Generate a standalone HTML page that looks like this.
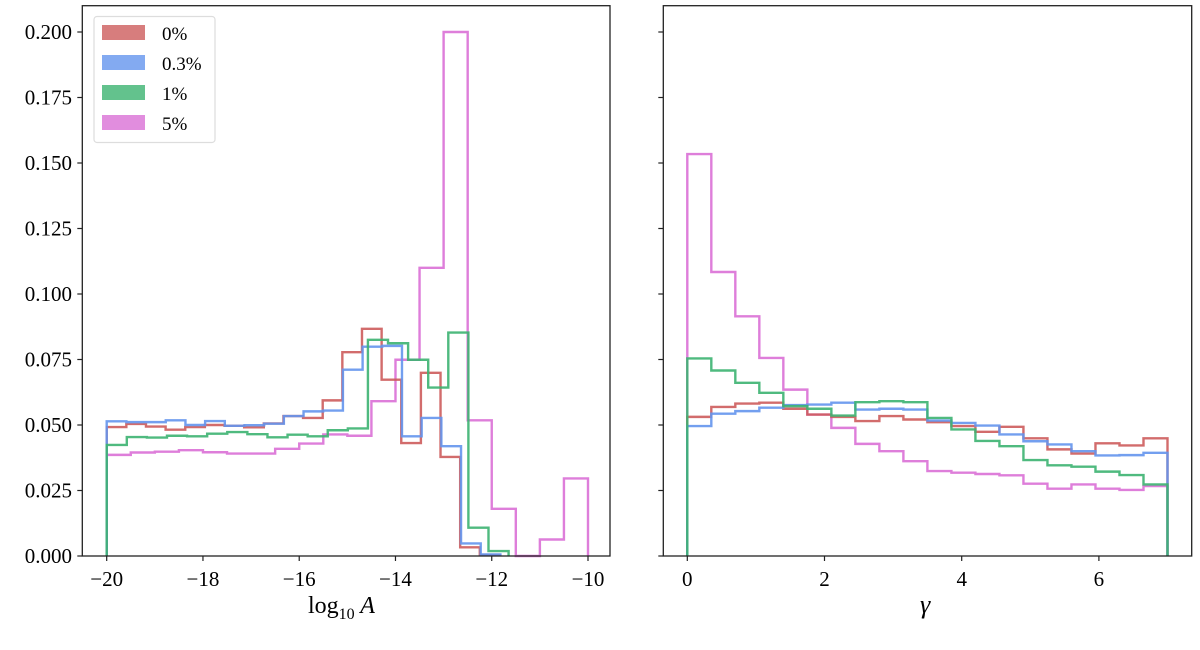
<!DOCTYPE html>
<html><head><meta charset="utf-8"><style>
body{margin:0;background:#fff;width:1200px;height:645px;overflow:hidden}
svg text{font-family:"Liberation Serif","DejaVu Serif",serif;fill:#000}
</style></head><body>
<svg id="chart" width="1200" height="645" xmlns="http://www.w3.org/2000/svg"></svg>
<script>
const seriesNames=["0%","0.3%","1%","5%"];
const colors=["#cd5c5c","#6495ed","#3cb371","#da70d6"];
// left panel: log10 A (each series: range start, range end, 20 bin values)
const leftRanges=[[-20,-11.84],[-20,-11.82],[-20,-11.65],[-20,-10]];
const leftRed=[.0492,.0504,.0494,.0482,.0492,.05,.0497,.0491,.0506,.0534,.0527,.0594,.0778,.0867,.0673,.0431,.0699,.0378,.0033,.0004];
const leftBlue=[.0514,.0511,.0511,.0518,.05,.0515,.0497,.0499,.0505,.0534,.0552,.0555,.0711,.0799,.0802,.0457,.0527,.0419,.0048,.0006];
const leftGreen=[.0424,.0454,.0452,.0459,.0457,.0467,.0473,.0465,.0453,.0463,.0457,.048,.0487,.0825,.0812,.0749,.0643,.0853,.0108,.0019];
const leftPink=[.0386,.0395,.0398,.0404,.0396,.0391,.0391,.0409,.0429,.0464,.0459,.0591,.0749,.110,.200,.0518,.018,0,.0063,.0296];
// right panel: gamma, range 0..7, 20 bins
const rightRange=[0,7];
const rightRed=[.0531,.0569,.0582,.0585,.0562,.054,.0531,.0515,.0534,.0521,.0511,.0496,.0474,.0493,.0449,.0407,.0391,.043,.0422,.0449];
const rightBlue=[.0496,.0543,.0553,.0566,.0576,.0578,.0585,.0559,.0562,.0559,.0517,.0508,.0498,.0464,.0438,.0426,.04,.0384,.0385,.0394];
const rightGreen=[.0754,.0708,.0661,.0623,.0572,.0562,.0536,.0587,.0591,.0587,.0527,.0483,.0439,.0419,.0366,.0346,.0341,.0322,.0309,.0273];
const rightPink=[.1534,.1084,.0915,.0756,.0635,.054,.0489,.0428,.04,.0362,.0324,.0318,.0313,.0308,.0276,.0257,.0273,.0257,.0252,.0267];
const yTicks=[0,0.025,0.05,0.075,0.1,0.125,0.15,0.175,0.2];
const yTickLabels=["0.000","0.025","0.050","0.075","0.100","0.125","0.150","0.175","0.200"];
const leftXTicks=[-20,-18,-16,-14,-12,-10];
const rightXTicks=[0,2,4,6];

const NS="http://www.w3.org/2000/svg";
const svg=document.getElementById('chart');
function mk(tag,attrs,parent){const e=document.createElementNS(NS,tag);for(const k in attrs)e.setAttribute(k,attrs[k]);(parent||svg).appendChild(e);return e;}
const yScale=v=>556-v*2620;
const panels=[
 {name:'log-a',x0:82.3,x1:610,xs:v=>106.7+(v+20)*48.13,ticks:leftXTicks,labels:true,
  data:[leftRed,leftBlue,leftGreen,leftPink],ranges:leftRanges},
 {name:'gamma',x0:663.3,x1:1191.7,xs:v=>687.3+v*68.6,ticks:rightXTicks,labels:false,
  data:[rightRed,rightBlue,rightGreen,rightPink],ranges:[rightRange,rightRange,rightRange,rightRange]}
];
panels.forEach(p=>{
  const g=mk('g',{});
  
  
  // series
  [3,0,1,2].forEach(si=>{
    const vals=p.data[si],r=p.ranges[si],n=vals.length,w=(r[1]-r[0])/n;
    let d='M'+p.xs(r[0])+','+yScale(0);
    vals.forEach((v,i)=>{d+=' L'+p.xs(r[0]+i*w)+','+yScale(v)+' L'+p.xs(r[0]+(i+1)*w)+','+yScale(v);});
    d+=' L'+p.xs(r[1])+','+yScale(0);
    const path=mk('path',{d:d,fill:'none',stroke:colors[si],'stroke-width':2.4,'stroke-opacity':0.9,'stroke-linejoin':'miter'},g);
    
    
  });
  mk('rect',{x:p.x0,y:5.7,width:p.x1-p.x0,height:556-5.7,fill:'none',stroke:'#222','stroke-width':1.3},g);
  yTicks.forEach((t,i)=>{
    const y=yScale(t);
    mk('line',{x1:p.x0-5,x2:p.x0,y1:y,y2:y,stroke:'#222','stroke-width':1.2},g);
    if(p.labels){const tx=mk('text',{x:72,y:y+7,'text-anchor':'end','font-size':21},g);tx.textContent=yTickLabels[i];
      }
  });
  p.ticks.forEach(t=>{
    const x=p.xs(t);
    mk('line',{x1:x,x2:x,y1:556,y2:561,stroke:'#222','stroke-width':1.2},g);
    const tx=mk('text',{x:x,y:586,'text-anchor':'middle','font-size':21},g);
    tx.textContent=t<0?'\u2212'+(-t):String(t);
    
    
  });
});
</script>
<svg style="position:absolute;left:0;top:0" width="1200" height="645" xmlns="http://www.w3.org/2000/svg">
<text x="308" y="613" font-size="24" font-family="Liberation Serif, serif">log<tspan font-size="16" dy="6">10</tspan><tspan dy="-6" font-style="italic"> A</tspan></text>
<text x="920" y="613" font-size="26" font-style="italic" font-family="Liberation Serif, serif">γ</text>
<g>
<rect x="94" y="16.5" width="121" height="126" rx="3" fill="#fff" stroke="#ddd" stroke-width="1.2"/>
<rect x="102" y="25" width="43" height="15" fill="#cd5c5c" fill-opacity="0.8"/>
<rect x="102" y="55" width="43" height="15" fill="#6495ed" fill-opacity="0.8"/>
<rect x="102" y="85" width="43" height="15" fill="#3cb371" fill-opacity="0.8"/>
<rect x="102" y="115" width="43" height="15" fill="#da70d6" fill-opacity="0.8"/>
<text x="162" y="40" font-size="19" font-family="Liberation Serif, serif">0%</text>
<text x="162" y="70" font-size="19" font-family="Liberation Serif, serif">0.3%</text>
<text x="162" y="100" font-size="19" font-family="Liberation Serif, serif">1%</text>
<text x="162" y="130" font-size="19" font-family="Liberation Serif, serif">5%</text>
</g>
</svg>
</body></html>
